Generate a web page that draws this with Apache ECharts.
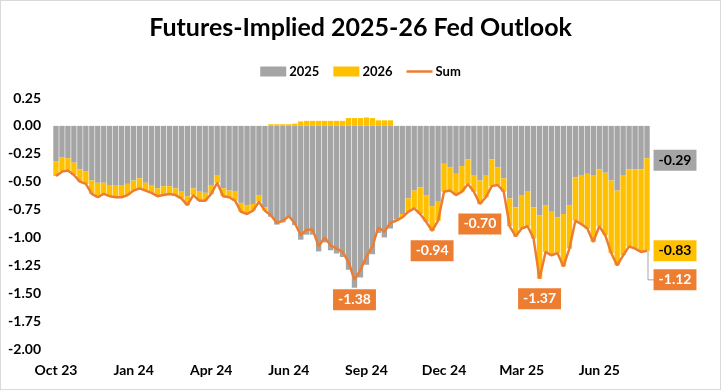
<!DOCTYPE html>
<html>
<head>
<meta charset="utf-8">
<script src="https://cdn.jsdelivr.net/npm/echarts@6/dist/echarts.min.js"></script>
<style>
html,body{margin:0;padding:0;background:#fff;}
#c{width:721px;height:390px;box-sizing:border-box;border:1px solid #d9d9d9;}
</style>
</head>
<body>
<div id="c"></div>
<script>
// Weekly observations, Oct 2023 - Aug 2025 (values in percentage points)
var tickLabels = ["Oct 23","Jan 24","Apr 24","Jun 24","Sep 24","Dec 24","Mar 25","Jun 25"];
var y2025 = [-0.32,-0.28,-0.29,-0.33,-0.39,-0.41,-0.49,-0.51,-0.51,-0.53,
  -0.53,-0.53,-0.52,-0.49,-0.47,-0.51,-0.53,-0.56,-0.54,-0.54,
  -0.56,-0.59,-0.63,-0.56,-0.59,-0.60,-0.53,-0.44,-0.56,-0.58,
  -0.59,-0.69,-0.71,-0.70,-0.62,-0.73,-0.815,-0.885,-0.865,-0.825,
  -0.89,-1.02,-0.975,-0.975,-1.125,-1.045,-1.115,-1.145,-1.175,-1.29,
  -1.45,-1.36,-1.245,-1.15,-0.96,-1.00,-0.92,-0.84,-0.79,-0.65,
  -0.58,-0.55,-0.62,-0.72,-0.68,-0.34,-0.37,-0.43,-0.36,-0.30,
  -0.44,-0.49,-0.44,-0.30,-0.37,-0.47,-0.65,-0.73,-0.62,-0.59,
  -0.73,-0.80,-0.71,-0.77,-0.82,-0.79,-0.71,-0.46,-0.44,-0.43,
  -0.44,-0.39,-0.42,-0.49,-0.58,-0.44,-0.39,-0.39,-0.39,-0.29];
var y2026 = [-0.13,-0.13,-0.11,-0.11,-0.11,-0.11,-0.12,-0.13,-0.10,-0.10,
  -0.11,-0.11,-0.10,-0.09,-0.09,-0.07,-0.07,-0.07,-0.08,-0.07,
  -0.06,-0.06,-0.08,-0.06,-0.08,-0.07,-0.08,-0.07,-0.07,-0.06,
  -0.08,-0.08,-0.08,-0.06,-0.06,-0.03,0.015,0.015,0.015,0.015,
  0.02,0.04,0.045,0.045,0.045,0.045,0.045,0.045,0.045,0.07,
  0.07,0.07,0.075,0.07,0.05,0.05,0.05,-0.01,-0.03,-0.12,
  -0.16,-0.24,-0.24,-0.22,-0.17,-0.25,-0.21,-0.19,-0.23,-0.22,
  -0.15,-0.21,-0.20,-0.24,-0.16,-0.12,-0.25,-0.26,-0.30,-0.31,
  -0.28,-0.57,-0.42,-0.39,-0.32,-0.47,-0.39,-0.39,-0.44,-0.49,
  -0.60,-0.51,-0.56,-0.65,-0.67,-0.72,-0.69,-0.71,-0.74,-0.83];
var sumLine = [-0.45,-0.41,-0.40,-0.44,-0.50,-0.52,-0.61,-0.64,-0.61,-0.63,
  -0.64,-0.64,-0.62,-0.58,-0.56,-0.58,-0.60,-0.63,-0.62,-0.61,
  -0.62,-0.65,-0.71,-0.62,-0.67,-0.67,-0.61,-0.51,-0.63,-0.64,
  -0.67,-0.77,-0.79,-0.76,-0.68,-0.76,-0.80,-0.87,-0.85,-0.81,
  -0.87,-0.98,-0.93,-0.93,-1.08,-1.00,-1.07,-1.10,-1.13,-1.22,
  -1.38,-1.29,-1.17,-1.08,-0.91,-0.95,-0.87,-0.85,-0.82,-0.77,
  -0.74,-0.79,-0.86,-0.94,-0.85,-0.59,-0.58,-0.62,-0.59,-0.52,
  -0.59,-0.70,-0.64,-0.54,-0.53,-0.59,-0.90,-0.99,-0.92,-0.90,
  -1.01,-1.37,-1.13,-1.16,-1.14,-1.26,-1.10,-0.85,-0.88,-0.92,
  -1.04,-0.90,-0.98,-1.14,-1.25,-1.16,-1.08,-1.10,-1.13,-1.12];
var calloutIdx = [50, 63, 71, 81];

var categories = [];
var start = new Date(Date.UTC(2023, 9, 2));
for (var i = 0; i < sumLine.length; i++) {
  var d = new Date(start.getTime() + i * 7 * 86400000);
  categories.push(d.toISOString().slice(0, 10));
}
var last = sumLine.length - 1;

var FONT = 'Lato';
var C_GRAY = '#A5A5A5', C_GOLD = '#FFC000', C_ORANGE = '#ED7D31';

var chart = echarts.init(document.getElementById('c'));
var boxLabel = function (bg, fg, off) {
  return {show: true, position: 'inside', offset: off, formatter: function (p) { return Number(p.value).toFixed(2); },
    backgroundColor: bg, color: fg, fontFamily: FONT, fontWeight: 'bold', fontSize: 14,
    padding: [4, 5, 3, 5]};
};
chart.setOption({
  animation: false,
  textStyle: {fontFamily: FONT},
  title: {text: 'Futures-Implied 2025-26 Fed Outlook', left: 'center', top: 9,
    textStyle: {fontFamily: FONT, fontWeight: 'bold', fontSize: 25, color: '#000'}},
  legend: {top: 59, left: 'center', itemWidth: 26, itemHeight: 10, itemGap: 14,
    data: [{name: '2025', icon: 'rect'}, {name: '2026', icon: 'rect'},
      {name: 'Sum', icon: 'path://M0,0L0.01,0M26,10L26.01,10M0,3.8L26,3.8L26,6.2L0,6.2Z'}],
    textStyle: {fontFamily: FONT, fontWeight: 'bold', fontSize: 13, color: '#000', padding: [0,0,0,-2]}},
  grid: {left: 52, right: 70, top: 97, bottom: 40, containLabel: false},
  xAxis: {type: 'category', data: categories, boundaryGap: true,
    axisLine: {show: false}, axisTick: {show: false},
    axisLabel: {interval: 12, margin: 14, color: '#000', fontFamily: FONT, fontWeight: 'bold', fontSize: 14,
      formatter: function (v, idx) { return tickLabels[Math.round(idx / 13)] || ''; }}},
  yAxis: {type: 'value', min: -2, max: 0.25, interval: 0.25,
    axisLine: {show: false}, axisTick: {show: false}, splitLine: {show: false},
    axisLabel: {margin: 12, color: '#000', fontFamily: FONT, fontWeight: 'bold', fontSize: 14,
      formatter: function (v) { return v.toFixed(2); }}},
  series: [
    {name: '2025', type: 'bar', stack: 'fed', data: y2025, barWidth: '90%',
      itemStyle: {color: C_GRAY},
      markPoint: {symbol: 'rect', symbolSize: 0, silent: true,
        data: [{coord: [last, y2025[last]], value: y2025[last]}],
        label: boxLabel(C_GRAY, '#000', [28, 2])}},
    {name: '2026', type: 'bar', stack: 'fed', data: y2026, barWidth: '90%',
      itemStyle: {color: C_GOLD},
      markPoint: {symbol: 'rect', symbolSize: 0, silent: true,
        data: [{coord: [last, sumLine[last]], value: y2026[last]}],
        label: boxLabel(C_GOLD, '#000', [28, 0])}},
    {name: 'Sum', type: 'line', data: sumLine, symbol: 'none', z: 5,
      lineStyle: {color: C_ORANGE, width: 2.5}, itemStyle: {color: C_ORANGE},
      markPoint: {symbol: 'rect', symbolSize: 0, silent: true,
        data: calloutIdx.map(function (k) { return {coord: [k, sumLine[k]], value: sumLine[k]}; })
          .concat([{coord: [last, sumLine[last]], value: sumLine[last], label: {offset: [28, 29]}}]),
        label: boxLabel(C_ORANGE, '#fff', [0, 20])}}
  ]
});
// leader line for the end "Sum" callout
var p = chart.convertToPixel({seriesIndex: 2}, [last, sumLine[last]]);
chart.setOption({graphic: [{type: 'polyline', silent: true, z: 1,
  shape: {points: [[p[0] + 1, p[1]], [p[0] + 1, p[1] + 29], [p[0] + 7, p[1] + 29]]},
  style: {stroke: '#A5A5A5', lineWidth: 1, fill: null}}]});
</script>
</body>
</html>
